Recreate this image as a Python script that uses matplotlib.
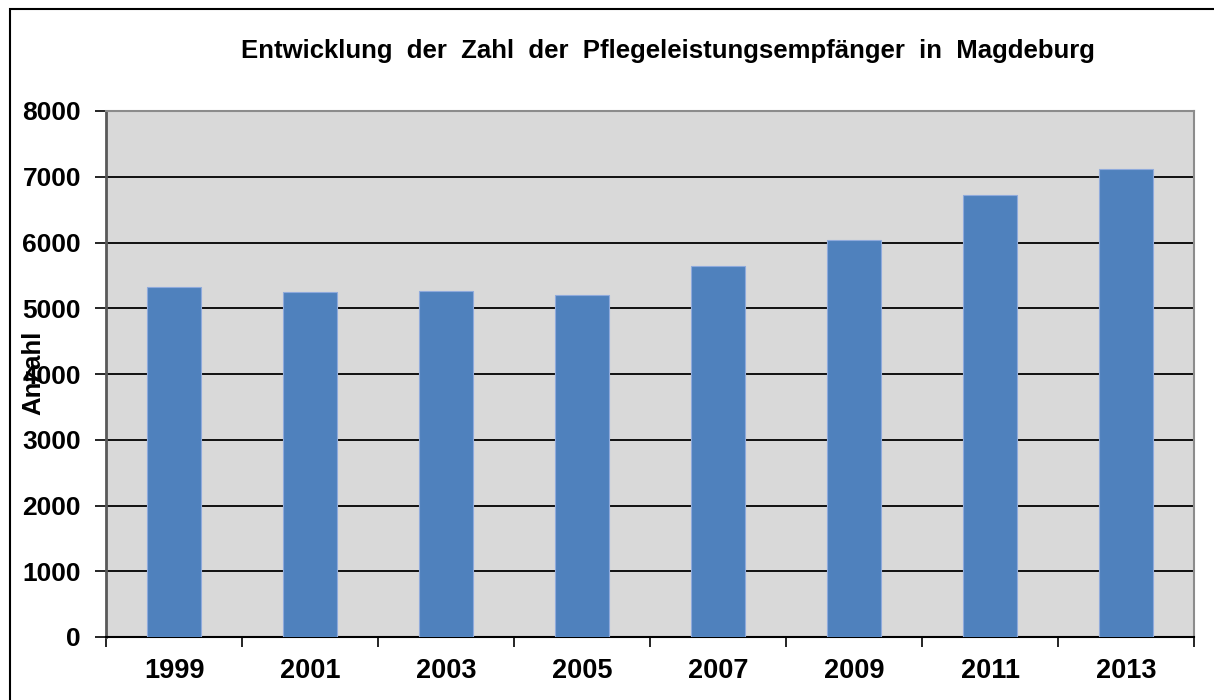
import matplotlib
matplotlib.use("Agg")
import matplotlib.pyplot as plt
from matplotlib.patches import Rectangle
import numpy as np

years = ["1999", "2001", "2003", "2005", "2007", "2009", "2011", "2013"]
values = [5319, 5247, 5262, 5205, 5638, 6033, 6722, 7112]
yticks = [0, 1000, 2000, 3000, 4000, 5000, 6000, 7000, 8000]
title = "Entwicklung  der  Zahl  der  Pflegeleistungsempfänger  in  Magdeburg"

plt.rcParams['font.family'] = ['Liberation Sans', 'DejaVu Sans']

fig = plt.figure(figsize=(12.14, 7.0), dpi=100)
W, H = 1214, 700
ax = fig.add_axes([106 / W, 1 - 637 / H, (1194 - 106) / W, (637 - 111) / H])
ax.set_facecolor("#D9D9D9")

x = np.arange(len(years))
ax.bar(x, values, width=0.39, color="#4F81BD", edgecolor="#8FAADC", linewidth=0.8, zorder=3)

ax.set_xlim(-0.5, len(years) - 0.5)
ax.set_ylim(0, 8000)
ax.set_yticks(yticks)
ax.set_yticklabels([str(v) for v in yticks], fontsize=19, fontweight="bold")
ax.yaxis.grid(True, color="black", linewidth=1.3, zorder=1)
ax.set_axisbelow(True)

ax.set_xticks(x)
ax.set_xticklabels(years, fontsize=19.5, fontweight="bold")
ax.set_xticks(np.arange(-0.5, len(years), 1.0), minor=True)
ax.tick_params(axis="x", which="major", length=0, pad=15)
ax.tick_params(axis="x", which="minor", length=7, width=1.2, color="black", direction="out")
ax.tick_params(axis="y", length=8, width=1.2, color="black", direction="out", pad=10)

for s in ["top", "right"]:
    ax.spines[s].set_color("#8C8C8C")
    ax.spines[s].set_linewidth(1.5)
ax.spines["left"].set_color("#595959")
ax.spines["left"].set_linewidth(2)
ax.spines["bottom"].set_color("black")
ax.spines["bottom"].set_linewidth(1.5)

fig.text(33 / W, 1 - 373 / H, "Anzahl", rotation=90, fontsize=18.5, fontweight="bold",
         ha="center", va="center")
fig.text(668 / W, 1 - 51 / H, title, fontsize=18.5, fontweight="bold",
         ha="center", va="center")

fig.patches.append(Rectangle((10 / W, -0.1), 1.2, 1 - 9 / H + 0.1, transform=fig.transFigure,
                             fill=False, edgecolor="black", linewidth=1.5, figure=fig))

fig.savefig("out.png", dpi=100, facecolor="white")
